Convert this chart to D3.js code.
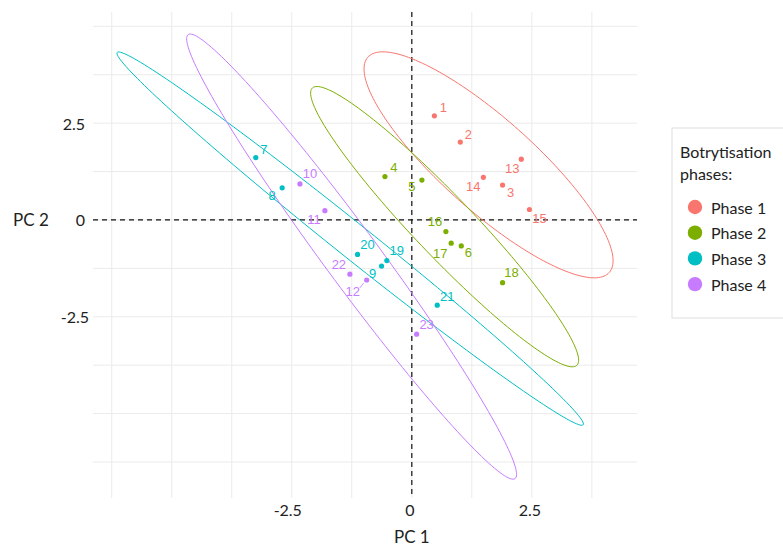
<!DOCTYPE html>
<html>
<head>
<meta charset="utf-8">
<script src="https://d3js.org/d3.v7.min.js"></script>
<style>
    html, body { margin: 0; padding: 0; background: #fff; }
    svg { display: block; }
</style>
</head>
<body>
<div id="chart"></div>
<script>
// Fases y colores (paleta por defecto de ggplot)
const PHASES = ['Phase 1', 'Phase 2', 'Phase 3', 'Phase 4'];
const PHASE_COLORS = ['#F8766D', '#7CAE00', '#00BFC4', '#C77CFF'];

// Muestras: id, fase, PC1, PC2
const SAMPLES = ['1', '2', '3', '13', '14', '15',
                 '4', '5', '6', '16', '17', '18',
                 '7', '8', '9', '19', '20', '21',
                 '10', '11', '12', '22', '23'];
const SAMPLE_PHASE = [1, 1, 1, 1, 1, 1,
                      2, 2, 2, 2, 2, 2,
                      3, 3, 3, 3, 3, 3,
                      4, 4, 4, 4, 4];
const PC1 = [0.47, 1.01, 1.89, 2.28, 1.49, 2.45,
             -0.56, 0.21, 1.03, 0.71, 0.82, 1.89,
             -3.25, -2.70, -0.63, -0.52, -1.13, 0.53,
             -2.33, -1.81, -0.94, -1.29, 0.10];
const PC2 = [2.69, 2.01, 0.90, 1.57, 1.10, 0.27,
             1.12, 1.03, -0.67, -0.30, -0.60, -1.62,
             1.61, 0.83, -1.19, -1.05, -0.89, -2.20,
             0.93, 0.24, -1.55, -1.40, -2.95];

const X_TICKS = [-2.5, 0, 2.5];
const Y_TICKS = [-2.5, 0, 2.5];
const GRID_STEP = 1.25;

// Desplazamiento de etiquetas en px (tipo ggrepel)
const LABEL_NUDGE = {
    '1': [9, -8], '2': [8, -8], '3': [8, 7], '13': [-9, 9], '14': [-10, 9], '15': [10, 9],
    '4': [9, -9], '5': [-10, 6], '6': [7, 7], '16': [-11, -10], '17': [-11, 10], '18': [9, -10],
    '7': [8, -8], '8': [-10, 8], '9': [-9, 7], '19': [10, -10], '20': [10, -10], '21': [10, -9],
    '10': [10, -10], '11': [-11, 9], '12': [-14, 12], '22': [-11, -10], '23': [10, -10]
};

const width = 783, height = 550;
const panel = { left: 93, right: 637, top: 12, bottom: 498 };
const axisFont = 'Lato, "Open Sans", sans-serif';

const svg = d3.select('#chart').append('svg')
    .attr('width', width)
    .attr('height', height);

const x = d3.scaleLinear().domain([-6.64, 4.69]).range([panel.left, panel.right]);
const y = d3.scaleLinear().domain([-7.18, 5.37]).range([panel.bottom, panel.top]);

// Rejilla
const gridX = d3.range(Math.ceil(x.domain()[0] / GRID_STEP), Math.floor(x.domain()[1] / GRID_STEP) + 1).map(i => i * GRID_STEP);
const gridY = d3.range(Math.ceil(y.domain()[0] / GRID_STEP), Math.floor(y.domain()[1] / GRID_STEP) + 1).map(i => i * GRID_STEP);

const grid = svg.append('g').attr('class', 'grid')
    .attr('stroke', '#ebebeb')
    .attr('stroke-width', 1);
grid.selectAll('line.v').data(gridX).enter().append('line')
    .attr('class', 'v')
    .attr('x1', d => x(d)).attr('x2', d => x(d))
    .attr('y1', panel.top).attr('y2', panel.bottom);
grid.selectAll('line.h').data(gridY).enter().append('line')
    .attr('class', 'h')
    .attr('x1', panel.left).attr('x2', panel.right)
    .attr('y1', d => y(d)).attr('y2', d => y(d));

// Ejes en cero (discontinuos)
svg.append('line')
    .attr('x1', panel.left).attr('x2', panel.right)
    .attr('y1', y(0)).attr('y2', y(0))
    .attr('stroke', '#111').attr('stroke-width', 1.2).attr('stroke-dasharray', '5,4');
svg.append('line')
    .attr('x1', x(0)).attr('x2', x(0))
    .attr('y1', panel.top).attr('y2', panel.bottom)
    .attr('stroke', '#111').attr('stroke-width', 1.2).attr('stroke-dasharray', '5,4');

// Elipse de confianza 95% (como stat_ellipse)
function confidenceEllipse(xs, ys, level = 0.95, segments = 180) {
    const n = xs.length;
    const mx = d3.mean(xs), my = d3.mean(ys);
    let sxx = 0, syy = 0, sxy = 0;
    for (let i = 0; i < n; i++) {
        sxx += (xs[i] - mx) ** 2;
        syy += (ys[i] - my) ** 2;
        sxy += (xs[i] - mx) * (ys[i] - my);
    }
    sxx /= n - 1; syy /= n - 1; sxy /= n - 1;
    const dfd = n - 1;
    const f = dfd / 2 * (Math.pow(1 - level, -2 / dfd) - 1); // qf(level, 2, dfd)
    const radius = Math.sqrt(2 * f);
    const r11 = Math.sqrt(sxx), r12 = sxy / r11, r22 = Math.sqrt(syy - r12 * r12);
    return d3.range(segments).map(i => {
        const a = i * 2 * Math.PI / segments;
        const c = Math.cos(a), s = Math.sin(a);
        return [mx + radius * c * r11, my + radius * (c * r12 + s * r22)];
    });
}

const line = d3.line().x(d => x(d[0])).y(d => y(d[1])).curve(d3.curveLinearClosed);

PHASES.forEach((p, k) => {
    const idx = SAMPLES.map((s, i) => i).filter(i => SAMPLE_PHASE[i] === k + 1);
    const pts = confidenceEllipse(idx.map(i => PC1[i]), idx.map(i => PC2[i]));
    svg.append('path')
        .attr('d', line(pts))
        .attr('fill', 'none')
        .attr('stroke', PHASE_COLORS[k])
        .attr('stroke-width', 1);
});

// Puntos
const samples = SAMPLES.map((id, i) => ({ id, phase: SAMPLE_PHASE[i], pc1: PC1[i], pc2: PC2[i] }));

svg.append('g').selectAll('circle')
    .data(samples).enter().append('circle')
    .attr('cx', d => x(d.pc1))
    .attr('cy', d => y(d.pc2))
    .attr('r', 2.6)
    .attr('fill', d => PHASE_COLORS[d.phase - 1]);

// Segmento de la etiqueta 12
samples.filter(d => d.id === '12').forEach(d => {
    svg.append('line')
        .attr('x1', x(d.pc1) - 3).attr('y1', y(d.pc2) + 3)
        .attr('x2', x(d.pc1) - 7).attr('y2', y(d.pc2) + 8)
        .attr('stroke', PHASE_COLORS[d.phase - 1]).attr('stroke-width', 0.8);
});

svg.append('g').selectAll('text')
    .data(samples).enter().append('text')
    .attr('x', d => x(d.pc1) + LABEL_NUDGE[d.id][0])
    .attr('y', d => y(d.pc2) + LABEL_NUDGE[d.id][1])
    .attr('text-anchor', 'middle')
    .attr('dominant-baseline', 'central')
    .attr('font-family', '"Liberation Sans", Arial, sans-serif')
    .attr('font-size', 13)
    .attr('fill', d => PHASE_COLORS[d.phase - 1])
    .text(d => d.id);

// Etiquetas de ejes
svg.append('g').selectAll('text')
    .data(X_TICKS).enter().append('text')
    .attr('x', d => x(d) - (d < 0 ? 4 : 2))
    .attr('y', 516)
    .attr('text-anchor', 'middle')
    .attr('font-family', axisFont)
    .attr('font-size', 16)
    .attr('fill', '#222')
    .text(d => d === 0 ? '0' : d3.format('.1f')(d).replace('−', '-'));

svg.append('g').selectAll('text')
    .data(Y_TICKS).enter().append('text')
    .attr('x', d => d < 0 ? 89 : 85)
    .attr('y', d => y(d))
    .attr('dominant-baseline', 'central')
    .attr('text-anchor', 'end')
    .attr('font-family', axisFont)
    .attr('font-size', 16)
    .attr('fill', '#222')
    .text(d => d === 0 ? '0' : d3.format('.1f')(d).replace('−', '-'));

svg.append('text')
    .attr('x', x(0)).attr('y', 543)
    .attr('text-anchor', 'middle')
    .attr('font-family', axisFont).attr('font-size', 17).attr('fill', '#222')
    .text('PC 1');

svg.append('text')
    .attr('x', 13).attr('y', y(0))
    .attr('dominant-baseline', 'central')
    .attr('font-family', axisFont).attr('font-size', 17).attr('fill', '#222')
    .text('PC 2');

// Leyenda
const legend = svg.append('g').attr('transform', 'translate(672,128)');
legend.append('rect')
    .attr('x', 0).attr('y', 0).attr('width', 130).attr('height', 190)
    .attr('fill', '#fff').attr('stroke', '#dedede').attr('stroke-width', 1);
legend.append('text').attr('x', 8).attr('y', 30)
    .attr('font-family', axisFont).attr('font-size', 16).attr('fill', '#222')
    .text('Botrytisation');
legend.append('text').attr('x', 8).attr('y', 52)
    .attr('font-family', axisFont).attr('font-size', 16).attr('fill', '#222')
    .text('phases:');

const items = legend.selectAll('g.item')
    .data(PHASES).enter().append('g')
    .attr('class', 'item')
    .attr('transform', (d, i) => `translate(23,${79 + i * 25.7})`);
items.append('circle').attr('r', 7.2).attr('fill', (d, i) => PHASE_COLORS[i]);
items.append('text')
    .attr('x', 16).attr('y', 0)
    .attr('dominant-baseline', 'central')
    .attr('font-family', axisFont).attr('font-size', 16).attr('fill', '#222')
    .text(d => d);
</script>
</body>
</html>
